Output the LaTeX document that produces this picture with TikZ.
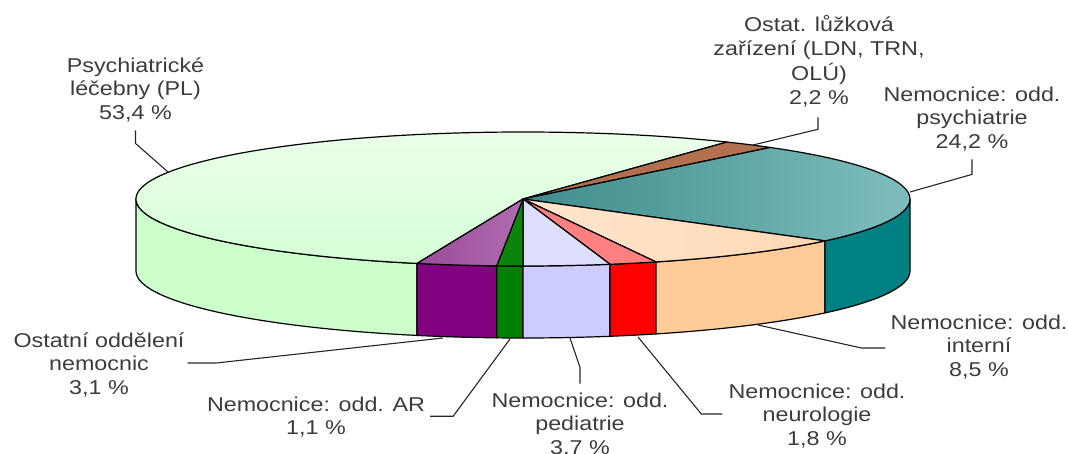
\documentclass[tikz,border=0pt]{standalone}
\usepackage{fontspec}
\setmainfont{Liberation Sans}[FakeStretch=1.165]
\definecolor{txtgray}{HTML}{3C3C3C}
\definecolor{plSide}{HTML}{CCFFCC}
\definecolor{plTopA}{HTML}{EAFFEA}
\definecolor{plTopB}{HTML}{D6FFD6}
\definecolor{brTop}{HTML}{B3704E}
\definecolor{psySide}{HTML}{008080}
\definecolor{psyTopA}{HTML}{3F8C8C}
\definecolor{psyTopB}{HTML}{86C3C3}
\definecolor{intSide}{HTML}{FFCC99}
\definecolor{intTopA}{HTML}{FFD8B4}
\definecolor{intTopB}{HTML}{FFE6CE}
\definecolor{neuSide}{HTML}{FF0000}
\definecolor{neuTop}{HTML}{FF8080}
\definecolor{pedSide}{HTML}{CCCCFF}
\definecolor{pedTop}{HTML}{DEDEFF}
\definecolor{arSide}{HTML}{008000}
\definecolor{arTop}{HTML}{0A850A}
\definecolor{othSide}{HTML}{800080}
\definecolor{othTopA}{HTML}{9A4A9A}
\definecolor{othTopB}{HTML}{B06CB0}
\newcommand\lblfont{\fontsize{20}{23.5}\selectfont}
\newcommand\pieSide[3]{\path[sideface, fill=#3] (C) ++(#1:387 and 67) arc[start angle=#1,end angle=#2,x radius=387,y radius=67] -- ++(0,72) arc[start angle=#2,end angle=#1,x radius=387,y radius=67] -- cycle;}
\newcommand\pieTop[3]{\path[topface, #3] (C) -- ++(#1:387 and 67) arc[start angle=#1,end angle=#2,x radius=387,y radius=67] -- cycle;}
\begin{document}
\begin{tikzpicture}[x=1pt,y=-1pt,
  sideface/.style={draw=black, line width=1.2pt, line join=round},
  topface/.style={draw=black, line width=1.2pt, line join=round},
  lbl/.style={align=center, inner sep=0pt, anchor=north, font=\lblfont, text=txtgray},
  leader/.style={draw=black!85, line width=1.1pt}]
\useasboundingbox (0,0) rectangle (1068,454);
\coordinate (C) at (523,199);
% side faces (front half)
\pieSide{105.9}{180}{plSide}
\pieSide{93.9}{105.9}{othSide}
\pieSide{90}{93.9}{arSide}
\pieSide{77}{90}{pedSide}
\pieSide{69.9}{77}{neuSide}
\pieSide{38.7}{69.9}{intSide}
\pieSide{0}{38.7}{psySide}
% top faces
\pieTop{105.9}{301.8}{top color=plTopA, bottom color=plTopB}
\pieTop{301.8}{309.7}{fill=brTop}
\pieTop{-50.3}{38.7}{left color=psyTopA, right color=psyTopB}
\pieTop{38.7}{69.9}{left color=intTopB, right color=intTopA}
\pieTop{69.9}{77}{fill=neuTop}
\pieTop{77}{90}{fill=pedTop}
\pieTop{90}{93.9}{fill=arTop}
\pieTop{93.9}{105.9}{left color=othTopA, right color=othTopB}
% leader end points on the pie
\coordinate (aPL) at (168,172);
\coordinate (aOLZ) at (753,145);
\coordinate (aPsy) at (910,192);
\coordinate (aInt) at (758,325);
\coordinate (aNeu) at (638,337);
\coordinate (aPed) at (570,338);
\coordinate (aAR) at (510,339);
\coordinate (aOth) at (443,338);
% labels
\node[lbl] (lPL) at (135.5,55.5) {\strut Psychiatrické\\\strut léčebny (PL)\\\strut 53,4 \%};
\node[lbl] (lOLZ) at (819,15) {\strut Ostat. lůžková\\\strut zařízení (LDN, TRN,\\\strut OLÚ)\\\strut 2,2 \%};
\node[lbl] (lPsy) at (972,84.5) {\strut Nemocnice: odd.\\\strut psychiatrie\\\strut 24,2 \%};
\node[lbl] (lInt) at (979,312.5) {\strut Nemocnice: odd.\\\strut interní\\\strut 8,5 \%};
\node[lbl] (lNeu) at (817,381.5) {\strut Nemocnice: odd.\\\strut neurologie\\\strut 1,8 \%};
\node[lbl] (lPed) at (580,390.5) {\strut Nemocnice: odd.\\\strut pediatrie\\\strut 3,7 \%};
\node[lbl] (lAR) at (316,394.5) {\strut Nemocnice: odd. AR\\\strut 1,1 \%};
\node[lbl] (lOth) at (99,330.5) {\strut Ostatní oddělení\\\strut nemocnic\\\strut 3,1 \%};
% leaders
\draw[leader] (lPL.south) ++(0,4) -- ++(0,13) -- (aPL);
\draw[leader] (lOLZ.south) ++(-1,6) -- ++(0,12) -- (aOLZ);
\draw[leader] (lPsy.south) ++(0,4) -- ++(0,15) -- (aPsy);
\draw[leader] (lInt.west) ++(-5,0) -- ++(-24,0) -- (aInt);
\draw[leader] (lNeu.west) ++(-6,-3) -- ++(-21,0) -- (aNeu);
\draw[leader] (lPed.north) ++(0,-7) -- ++(0,-16) -- (aPed);
\draw[leader] (lAR.east) ++(5,-2) -- ++(23,0) -- (aAR);
\draw[leader] (lOth.east) ++(3,-3) -- ++(29,0) -- (aOth);
\end{tikzpicture}
\end{document}
